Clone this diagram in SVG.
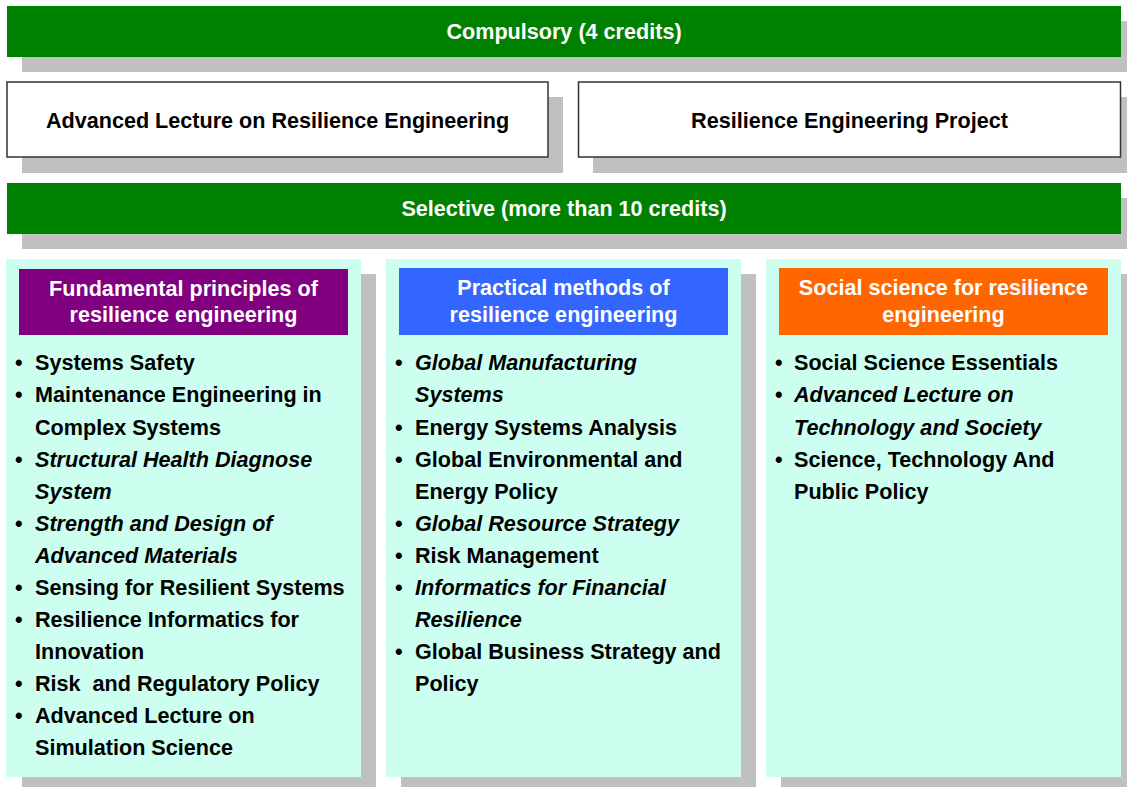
<svg xmlns="http://www.w3.org/2000/svg" width="1127" height="787" viewBox="0 0 1127 787">
  <style>
    text { font-family: "Liberation Sans", Arial, sans-serif; font-weight: bold; font-size: 21.6px; }
    .shadow { fill: #C0C0C0; }
    .bar { fill: #008000; }
    .box { fill: #FFFFFF; stroke: #333333; stroke-width: 1.5; }
    .panel { fill: #CCFFF0; }
    .w { fill: #FFFFFF; text-anchor: middle; }
    .c { fill: #000000; text-anchor: middle; }
    .item { fill: #000000; white-space: pre; }
    .it { font-style: italic; }
  </style>

  <!-- compulsory header -->
  <g id="compulsory">
    <rect class="shadow" x="22" y="21" width="1105" height="51"/>
    <rect class="bar" x="7" y="6" width="1114" height="51"/>
    <text class="w" x="564" y="39">Compulsory (4 credits)</text>
  </g>

  <g id="advanced-lecture">
    <rect class="shadow" x="22" y="97" width="541" height="76"/>
    <rect class="box" x="7" y="82" width="541" height="75"/>
    <text class="c" x="277.5" y="128">Advanced Lecture on Resilience Engineering</text>
  </g>

  <g id="project">
    <rect class="shadow" x="593" y="97" width="534" height="76"/>
    <rect class="box" x="578.5" y="82" width="542" height="75"/>
    <text class="c" x="849.5" y="128">Resilience Engineering Project</text>
  </g>

  <!-- selective header -->
  <g id="selective">
    <rect class="shadow" x="22" y="198" width="1105" height="51"/>
    <rect class="bar" x="7" y="183" width="1114" height="51"/>
    <text class="w" x="564" y="216">Selective (more than 10 credits)</text>
  </g>

  <!-- fundamental principles -->
  <g id="fundamental">
    <rect class="shadow" x="22" y="274" width="354" height="513"/>
    <rect class="panel" x="6" y="259" width="355" height="518"/>
    <rect fill="#800080" x="19" y="269" width="329" height="66"/>
    <text class="w" x="183.5" y="296">Fundamental principles of</text>
    <text class="w" x="183.5" y="322">resilience engineering</text>
    <g class="item">
      <text x="15" y="370">•</text>
      <text x="35" y="370">Systems Safety</text>
      <text x="15" y="402">•</text>
      <text x="35" y="402">Maintenance Engineering in</text>
      <text x="35" y="435">Complex Systems</text>
      <text x="15" y="467">•</text>
      <text class="it" x="35" y="467">Structural Health Diagnose</text>
      <text class="it" x="35" y="499">System</text>
      <text x="15" y="531">•</text>
      <text class="it" x="35" y="531">Strength and Design of</text>
      <text class="it" x="35" y="563">Advanced Materials</text>
      <text x="15" y="595">•</text>
      <text x="35" y="595">Sensing for Resilient Systems</text>
      <text x="15" y="627">•</text>
      <text x="35" y="627">Resilience Informatics for</text>
      <text x="35" y="659">Innovation</text>
      <text x="15" y="691">•</text>
      <text x="35" y="691" xml:space="preserve">Risk  and Regulatory Policy</text>
      <text x="15" y="723">•</text>
      <text x="35" y="723">Advanced Lecture on</text>
      <text x="35" y="755">Simulation Science</text>
    </g>
  </g>

  <!-- practical methods -->
  <g id="practical">
    <rect class="shadow" x="401" y="274" width="355" height="513"/>
    <rect class="panel" x="386" y="259" width="355" height="518"/>
    <rect fill="#3366FF" x="399" y="268" width="329" height="67"/>
    <text class="w" x="563.5" y="295">Practical methods of</text>
    <text class="w" x="563.5" y="322">resilience engineering</text>
    <g class="item">
      <text x="395" y="370">•</text>
      <text class="it" x="415" y="370">Global Manufacturing</text>
      <text class="it" x="415" y="402">Systems</text>
      <text x="395" y="435">•</text>
      <text x="415" y="435">Energy Systems Analysis</text>
      <text x="395" y="467">•</text>
      <text x="415" y="467">Global Environmental and</text>
      <text x="415" y="499">Energy Policy</text>
      <text x="395" y="531">•</text>
      <text class="it" x="415" y="531">Global Resource Strategy</text>
      <text x="395" y="563">•</text>
      <text x="415" y="563">Risk Management</text>
      <text x="395" y="595">•</text>
      <text class="it" x="415" y="595">Informatics for Financial</text>
      <text class="it" x="415" y="627">Resilience</text>
      <text x="395" y="659">•</text>
      <text x="415" y="659">Global Business Strategy and</text>
      <text x="415" y="691">Policy</text>
    </g>
  </g>

  <!-- social science -->
  <g id="social">
    <rect class="shadow" x="781" y="274" width="346" height="513"/>
    <rect class="panel" x="766" y="259" width="355" height="518"/>
    <rect fill="#FF6600" x="779" y="268" width="329" height="67"/>
    <text class="w" x="943.5" y="295">Social science for resilience</text>
    <text class="w" x="943.5" y="322">engineering</text>
    <g class="item">
      <text x="775" y="370">•</text>
      <text x="794" y="370">Social Science Essentials</text>
      <text x="775" y="402">•</text>
      <text class="it" x="794" y="402">Advanced Lecture on</text>
      <text class="it" x="794" y="435">Technology and Society</text>
      <text x="775" y="467">•</text>
      <text x="794" y="467">Science, Technology And</text>
      <text x="794" y="499">Public Policy</text>
    </g>
  </g>
</svg>
